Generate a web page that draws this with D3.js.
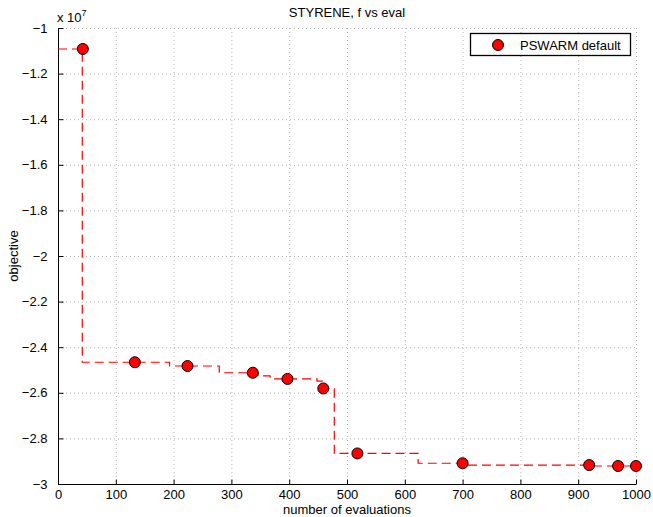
<!DOCTYPE html>
<html>
<head>
<meta charset="utf-8">
<script src="https://cdn.jsdelivr.net/npm/d3@7"></script>
<style>
  body { margin: 0; background: #fff; }
  svg text { font-family: "Liberation Sans", Arial, sans-serif; fill: #000; }
</style>
</head>
<body>
<svg id="chart" width="653" height="517"></svg>
<script>
// markers: evaluation count and objective (units of 1e7)
const markerEvals = [43, 133, 224, 337, 397, 459, 518, 700, 919, 969, 1000];
const markerValues = [-1.092, -2.466, -2.4825, -2.512, -2.539, -2.581, -2.866, -2.909, -2.917, -2.921, -2.921];

// best-so-far trajectory, drawn as steps (value holds from this eval onwards)
const stepEvals = [0, 42, 193, 279, 346, 367, 448, 457, 478, 623, 705, 925, 1000];
const stepValues = [-1.092, -2.466, -2.4825, -2.512, -2.526, -2.539, -2.549, -2.582, -2.866, -2.909, -2.917, -2.921, -2.921];

const xTicks = [0, 100, 200, 300, 400, 500, 600, 700, 800, 900, 1000];
const yTicks = [-1, -1.2, -1.4, -1.6, -1.8, -2, -2.2, -2.4, -2.6, -2.8, -3];

const svg = d3.select("#chart");
const plotL = 58, plotR = 636, plotT = 28, plotB = 484;

const x = d3.scaleLinear().domain([0, 1000]).range([plotL, plotR]);
const y = d3.scaleLinear().domain([-3, -1]).range([plotB, plotT]);
const fmt = v => d3.format("")(v).replace("-", "\u2212");

// grid
const grid = svg.append("g").attr("stroke", "#b4b4b4").attr("stroke-dasharray", "1,3").attr("stroke-width", 1);
grid.selectAll(".gx").data(xTicks.slice(1)).join("line")
  .attr("x1", d => x(d) + 0.5).attr("x2", d => x(d) + 0.5)
  .attr("y1", plotT).attr("y2", plotB);
grid.selectAll(".gy").data(yTicks.slice(0, -1)).join("line")
  .attr("y1", d => y(d) + 0.5).attr("y2", d => y(d) + 0.5)
  .attr("x1", plotL).attr("x2", plotR);

// axes
const xAxis = d3.axisBottom(x).tickValues(xTicks).tickSize(-5).tickPadding(6).tickFormat(fmt);
const yAxis = d3.axisLeft(y).tickValues(yTicks).tickSize(-5).tickPadding(11).tickFormat(fmt);

const gx = svg.append("g").attr("transform", `translate(0,${plotB + 0.5})`).call(xAxis);
const gy = svg.append("g").attr("transform", `translate(${plotL + 0.5},0)`).call(yAxis);
gx.select(".domain").attr("d", `M${plotL},0H${plotR}`);
gy.select(".domain").attr("d", `M0,${plotT}V${plotB}`);
[gx, gy].forEach(g => {
  g.selectAll("text").attr("font-size", 13).attr("font-family", "Liberation Sans, Arial, sans-serif");
  g.selectAll("path, line").attr("stroke", "#000");
});
gx.selectAll("text").attr("dy", "0.68em");

// step line
const stepLine = d3.line().curve(d3.curveStepAfter)
  .x(d => x(d[0])).y(d => y(d[1]));
svg.append("path")
  .datum(stepEvals.map((e, i) => [e, stepValues[i]]))
  .attr("d", stepLine)
  .attr("fill", "none").attr("stroke", "#ff0000").attr("stroke-width", 1.2)
  .attr("stroke-dasharray", "9,5");

// markers
svg.selectAll(".pt").data(markerEvals.map((e, i) => [e, markerValues[i]])).join("circle")
  .attr("cx", d => x(d[0])).attr("cy", d => y(d[1])).attr("r", 5.5)
  .attr("fill", "#ff0000").attr("stroke", "#000").attr("stroke-width", 1);

// exponent label
const ex = svg.append("text").attr("x", 57).attr("y", 21.5).attr("font-size", 13).text("x 10");
ex.append("tspan").attr("font-size", 9).attr("dy", -6).text("7");

// title and labels
svg.append("text").attr("x", (plotL + plotR) / 2).attr("y", 16.5).attr("text-anchor", "middle")
  .attr("font-size", 13).text("STYRENE, f vs eval");
svg.append("text").attr("x", (plotL + plotR) / 2).attr("y", 513.5).attr("text-anchor", "middle")
  .attr("font-size", 13).text("number of evaluations");
svg.append("text").attr("transform", `translate(18,${(plotT + plotB) / 2}) rotate(-90)`)
  .attr("text-anchor", "middle").attr("font-size", 13).text("objective");

// legend
const lg = svg.append("g");
lg.append("rect").attr("x", 470.5).attr("y", 33.5).attr("width", 160).attr("height", 22)
  .attr("fill", "#fff").attr("stroke", "#000").attr("stroke-width", 1.3);
lg.append("circle").attr("cx", 498).attr("cy", 45).attr("r", 5.5)
  .attr("fill", "#ff0000").attr("stroke", "#000");
lg.append("text").attr("x", 520).attr("y", 49.5).attr("font-size", 13).text("PSWARM default");
</script>
</body>
</html>
